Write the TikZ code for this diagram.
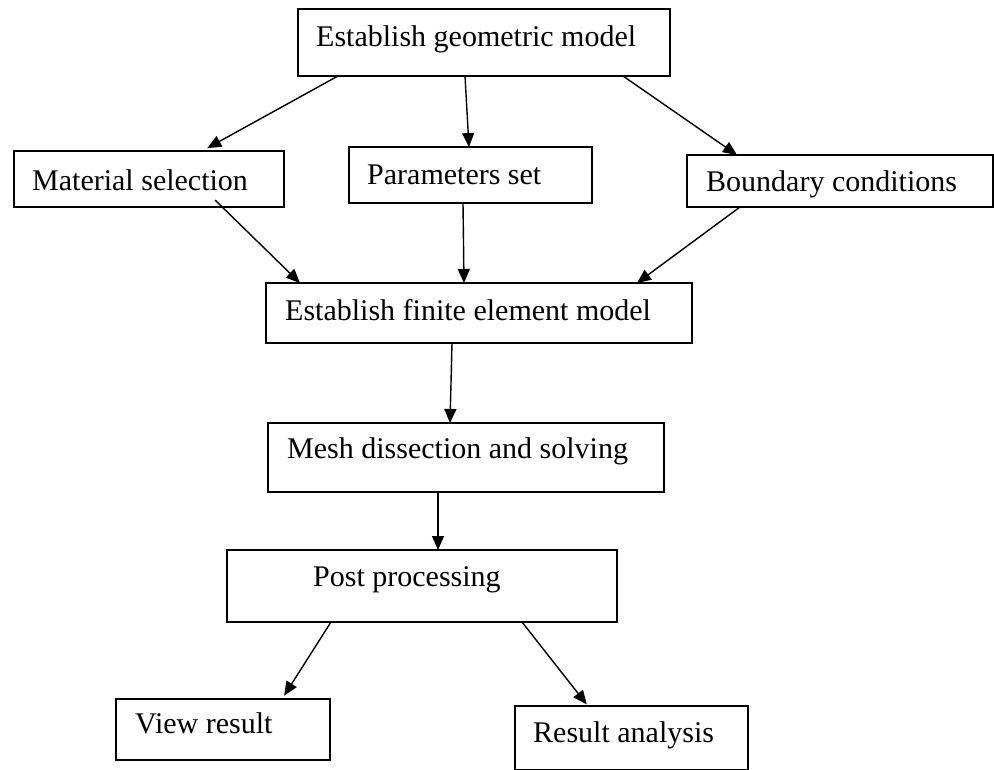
\documentclass[tikz,border=0pt]{standalone}
\usepackage{fontspec}
\setmainfont{Liberation Serif}
\usetikzlibrary{arrows.meta}
\tikzset{
    box/.style={draw, line width=1.8pt, outer sep=0pt, inner sep=0pt},
    txt/.style={anchor=base west, inner sep=0pt, font=\fontsize{30}{36}\selectfont},
    arr/.style={-{Triangle[length=14pt,width=12pt]}, line width=1.4pt}
}
\begin{document}
\begin{tikzpicture}[x=1pt, y=-1pt]
                \useasboundingbox (0,0) rectangle (994,769);

                \node[box, minimum width=372pt, minimum height=67pt] (geo) at (484, 42.5) {};
                \node[box, minimum width=270pt, minimum height=56pt] (mat) at (149, 179) {};
                \node[box, minimum width=243pt, minimum height=56pt] (par) at (470.5, 175) {};
                \node[box, minimum width=306pt, minimum height=52pt] (bnd) at (840, 181) {};
                \node[box, minimum width=426pt, minimum height=60pt] (fin) at (479, 313) {};
                \node[box, minimum width=396pt, minimum height=69pt] (mesh) at (466, 457.5) {};
                \node[box, minimum width=390pt, minimum height=72pt] (post) at (422, 586) {};
                \node[box, minimum width=214pt, minimum height=61pt] (view) at (223, 729.5) {};
                \node[box, minimum width=233pt, minimum height=64pt] (res) at (631.5, 738) {};

                \node[txt] (geotxt) at (316, 46.7) {Establish geometric model};
                \node[txt] (mattxt) at (32, 190) {Material selection};
                \node[txt] (partxt) at (367, 184.3) {Parameters set};
                \node[txt] (bndtxt) at (706, 191.7) {Boundary conditions};
                \node[txt] (fintxt) at (285, 320) {Establish finite element model};
                \node[txt] (meshtxt) at (287, 458.3) {Mesh dissection and solving};
                \node[txt] (posttxt) at (313, 586.7) {Post processing};
                \node[txt] (viewtxt) at (135, 733.3) {View result};
                \node[txt] (restxt) at (533, 742.7) {Result analysis};

                \draw [arr, shorten >=6pt] ([xshift=40pt]geo.south west) -- ([xshift=188pt]mat.north west);
                \draw [arr] ([xshift=167pt]geo.south west) -- ([xshift=120pt]par.north west);
                \draw [arr] ([xshift=325pt]geo.south west) -- ([xshift=50pt]bnd.north west);

                \draw [arr] ([xshift=201pt, yshift=7pt]mat.south west) -- ([xshift=34pt]fin.north west);
                \draw [arr] ([xshift=114pt]par.south west) -- ([xshift=198pt]fin.north west);
                \draw [arr] ([xshift=53pt]bnd.south west) -- ([xshift=371pt]fin.north west);

                \draw [arr] ([xshift=186pt]fin.south west) -- ([xshift=182pt]mesh.north west);
                \draw [arr] ([xshift=170pt]mesh.south west) -- ([xshift=211pt]post.north west);

                \draw [arr, shorten >=4pt] ([xshift=104pt]post.south west) -- ([xshift=166pt]view.north west);
                \draw [arr, shorten >=2pt] ([xshift=295pt]post.south west) -- ([xshift=73pt]res.north west);
            \end{tikzpicture}
\end{document}
